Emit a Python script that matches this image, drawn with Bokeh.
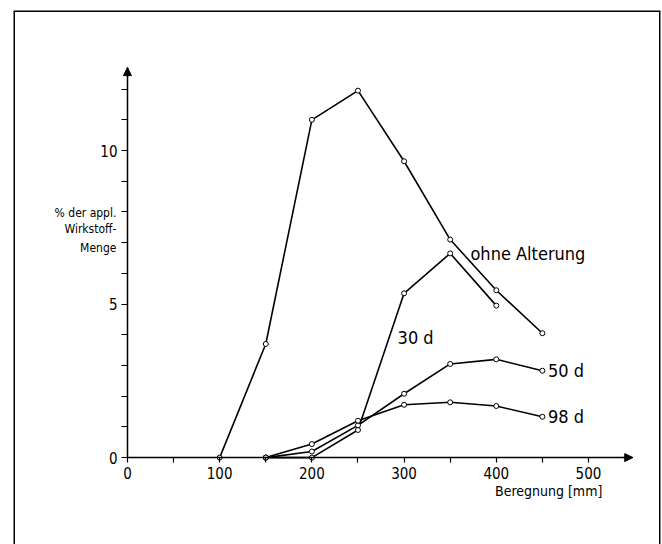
from bokeh.plotting import figure
from bokeh.models import FixedTicker, Arrow, NormalHead, Range1d, Span
from bokeh.embed import file_html
from bokeh.resources import INLINE
from bokeh.core.properties import value

# ---- data ----
rain_ohne = [100, 150, 200, 250, 300, 350, 400, 450]
ohne = [0.0, 3.7, 11.0, 11.95, 9.65, 7.1, 5.45, 4.05]

rain_30 = [150, 200, 250, 300, 350, 400]
d30 = [0.0, 0.0, 0.9, 5.35, 6.65, 4.95]

rain_50 = [150, 200, 250, 300, 350, 400, 450]
d50 = [0.0, 0.2, 1.05, 2.08, 3.05, 3.2, 2.83]

rain_98 = [150, 200, 250, 300, 350, 400, 450]
d98 = [0.0, 0.44, 1.2, 1.72, 1.8, 1.68, 1.33]

x_major = [0, 100, 200, 300, 400, 500]
x_minor = [50, 150, 250, 350, 450]
y_major = [0, 5, 10]
y_minor = [1, 2, 3, 4, 6, 7, 8, 9, 11, 12]

series_labels = ["ohne Alterung", "30 d", "50 d", "98 d"]
y_label_lines = ["% der appl.", "Wirkstoff-", "Menge"]
x_label = "Beregnung [mm]"

# ---- layout ----
x_lo, x_hi = -123.6, 578.1
y_lo, y_hi = -2.83, 14.56
label_x = [372, 293, 456, 456]
label_y = [6.65, 3.9, 2.83, 1.33]
ylab_x = -12
ylab_y = [7.98, 7.43, 6.84]
xlab_x = 515
xlab_y = -1.1
x_axis_end = 548
y_axis_end = 12.7

FONT = "DejaVu Sans Condensed"

p = figure(width=662, height=544, output_backend="svg", toolbar_location=None,
           x_range=Range1d(x_lo, x_hi), y_range=Range1d(y_lo, y_hi),
           min_border_left=13, min_border_right=2, min_border_top=10,
           min_border_bottom=0)
p.background_fill_color = "white"
p.border_fill_color = "white"
p.outline_line_color = None
p.grid.visible = False

# outer frame: left, right and top edges only (the scan has no bottom edge)
for loc, dim in ((x_lo, "height"), (x_hi, "height"), (y_hi, "width")):
    p.add_layout(Span(location=loc, dimension=dim, line_color="black", line_width=3))

for ax, ticks, minor, bnd, tl in ((p.xaxis, x_major, x_minor, (0, x_axis_end), 5),
                                  (p.yaxis, y_major, y_minor, (0, y_axis_end), 6)):
    ax.ticker = FixedTicker(ticks=ticks, minor_ticks=minor)
    ax.fixed_location = 0
    ax.bounds = bnd
    ax.axis_line_color = "black"
    ax.axis_line_width = 1.5
    ax.major_tick_in = 0
    ax.minor_tick_in = 0
    ax.major_tick_out = tl
    ax.minor_tick_out = tl
    ax.major_tick_line_width = 1.2
    ax.minor_tick_line_width = 1.2
    ax.major_tick_line_color = "black"
    ax.minor_tick_line_color = "black"
    ax.major_label_text_font = FONT
    ax.major_label_text_font_size = "15px"
    ax.major_label_text_color = "black"
    ax.major_label_standoff = 4

p.add_layout(Arrow(end=NormalHead(size=8, fill_color="black", line_color="black"),
                   x_start=x_axis_end - 10, y_start=0, x_end=x_axis_end, y_end=0,
                   line_width=1.5, line_color="black"))
p.add_layout(Arrow(end=NormalHead(size=8, fill_color="black", line_color="black"),
                   x_start=0, y_start=y_axis_end - 0.3, x_end=0, y_end=y_axis_end,
                   line_width=1.5, line_color="black"))

for xs, ys in ((rain_ohne, ohne), (rain_30, d30), (rain_50, d50), (rain_98, d98)):
    p.line(xs, ys, line_color="black", line_width=1.6)
    p.scatter(xs, ys, marker="circle", size=5, line_color="black",
              fill_color="white", line_width=1)

p.text(x=label_x, y=label_y, text=series_labels, text_font=value(FONT),
       text_font_size="18px", text_baseline="middle", text_align="left",
       text_color="black")
p.text(x=[ylab_x] * 3, y=ylab_y, text=y_label_lines, text_font=value(FONT),
       text_font_size="12px", text_baseline="middle", text_align="right",
       text_color="black")
p.text(x=[xlab_x], y=[xlab_y], text=[x_label], text_font=value(FONT),
       text_font_size="14px", text_baseline="middle", text_align="right",
       text_color="black")

open("out.html", "w").write(file_html(p, INLINE))
